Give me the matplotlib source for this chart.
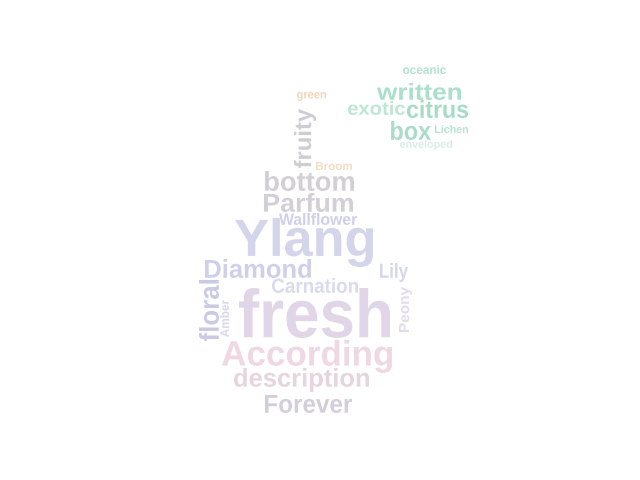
import matplotlib
matplotlib.use("Agg")
import matplotlib.pyplot as plt
import matplotlib.colors as mcolors
from matplotlib.textpath import TextPath
from matplotlib.font_manager import FontProperties
from matplotlib.patches import PathPatch
from matplotlib.transforms import Affine2D

# words of the cloud and their colours
words = ["oceanic", "written", "exotic", "citrus", "box", "Lichen", "enveloped",
         "green", "fruity", "Broom", "bottom", "Parfum", "Wallflower", "Ylang",
         "Diamond", "Lily", "Carnation", "floral", "Amber", "fresh", "Peony",
         "According", "description", "Forever"]
colors = ["#a4dcc6", "#98d8c0", "#b0e0cc", "#90d4ba", "#96d6bd", "#a8dcc8", "#cdeae0",
          "#f0cca8", "#c4c2c8", "#f2d4b4", "#c8c6cc", "#c8c5d0", "#c4c4e4", "#cacae6",
          "#c4c4e4", "#cdcde6", "#d2d2ea", "#bebede", "#d0d0e8", "#dacde2", "#dcd4e6",
          "#ecd0dc", "#e0ccd6", "#cac2d2"]

# layout: box of each word in pixels (x0, x1, y0, y1 from top-left) and rotation
boxes = [(403, 446, 65, 74), (377, 461, 83, 100), (348, 405, 101, 115),
         (407, 468, 100, 118), (391, 431, 121, 140), (435, 468, 125, 133),
         (400, 452, 140, 150), (297, 326, 92, 101), (294, 316, 109, 168),
         (316, 352, 162, 170), (265, 354, 171, 191), (264, 353, 193, 212),
         (279, 357, 213, 225), (235, 373, 218, 267), (205, 311, 259, 278),
         (380, 408, 263, 282), (272, 358, 278, 293), (199, 219, 280, 341),
         (220, 229, 300, 337), (239, 390, 288, 338), (399, 412, 287, 332),
         (222, 392, 340, 373), (234, 369, 368, 392), (265, 352, 395, 413)]
rotations = [0, 0, 0, 0, 0, 0, 0,
             0, 90, 0, 0, 0, 0, 0,
             0, 0, 0, 90, 90, 0, 90,
             0, 0, 0]

fade = 0.18
fp = FontProperties(family="Liberation Sans", weight="bold")

fig = plt.figure(figsize=(6.4, 4.8), dpi=100)
ax = fig.add_axes([0, 0, 1, 1])
ax.set_xlim(0, 640)
ax.set_ylim(480, 0)
ax.axis("off")

for w, c, (x0, x1, y0, y1), rot in zip(words, colors, boxes, rotations):
    rgb = tuple(v + (1 - v) * fade for v in mcolors.to_rgb(c))
    tp = TextPath((0, 0), w, size=1, prop=fp)
    ext = tp.get_extents()
    if rot:
        length, thick = y1 - y0, x1 - x0
    else:
        length, thick = x1 - x0, y1 - y0
    tr = (Affine2D()
          .translate(-(ext.x0 + ext.x1) / 2, -(ext.y0 + ext.y1) / 2)
          .scale(length / ext.width, -thick / ext.height)
          .rotate_deg(-rot)
          .translate((x0 + x1) / 2, (y0 + y1) / 2))
    ax.add_patch(PathPatch(tr.transform_path(tp), facecolor=rgb, edgecolor="none"))

fig.savefig("out.png", dpi=100, facecolor="white")
